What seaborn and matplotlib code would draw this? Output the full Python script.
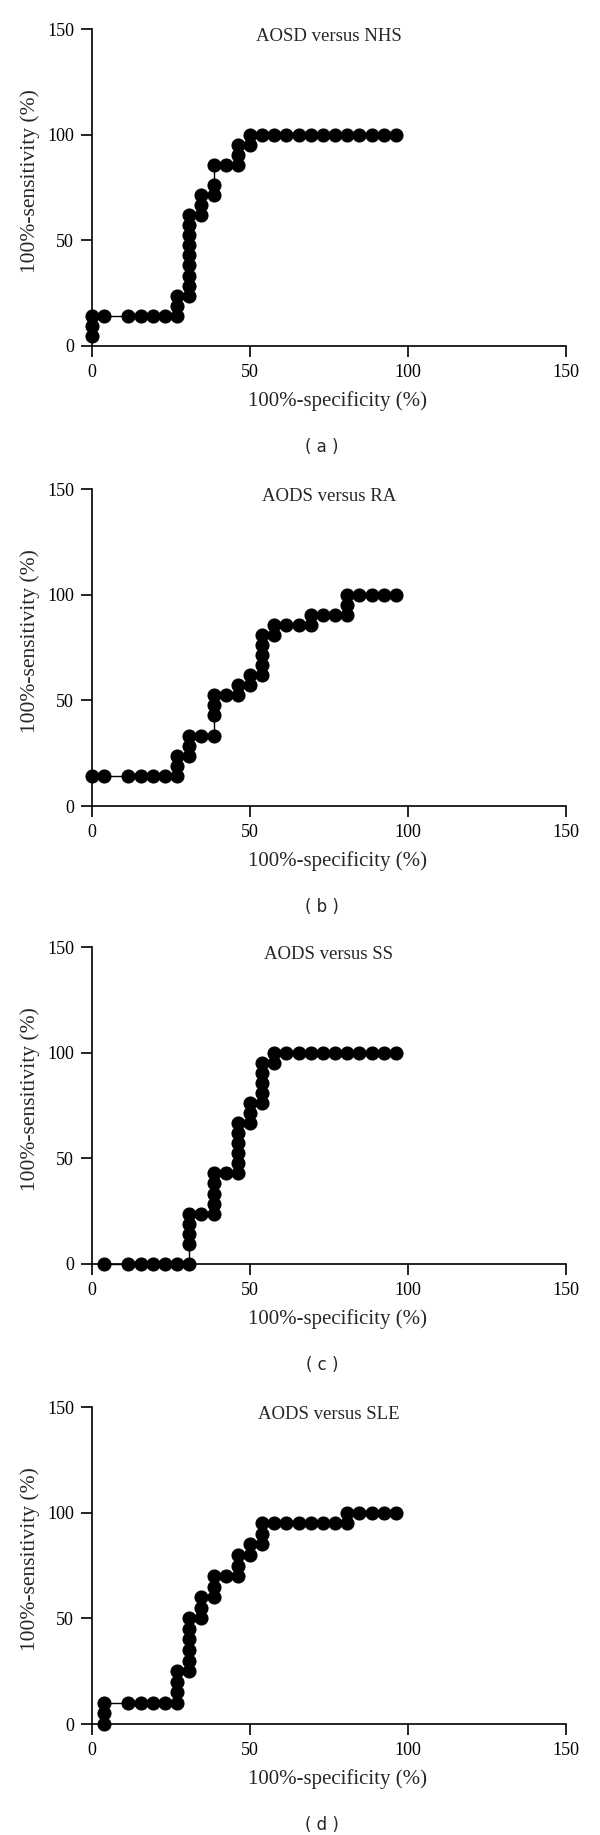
import matplotlib
matplotlib.use("Agg")
import matplotlib.pyplot as plt
import seaborn as sns
import pandas as pd

# ROC points (100%-specificity, 100%-sensitivity)
nhs_x = [0, 0, 0, 3.85, 11.54, 15.38, 19.23, 23.08, 26.92, 26.92, 26.92,
         30.77, 30.77, 30.77, 30.77, 30.77, 30.77, 30.77, 30.77, 30.77,
         34.62, 34.62, 34.62, 38.46, 38.46, 38.46, 42.31, 46.15, 46.15, 46.15,
         50, 50, 53.85, 57.69, 61.54, 65.38, 69.23, 73.08, 76.92, 80.77,
         84.62, 88.46, 92.31, 96.15]
nhs_y = [4.76, 9.52, 14.29, 14.29, 14.29, 14.29, 14.29, 14.29, 14.29, 19.05, 23.81,
         23.81, 28.57, 33.33, 38.10, 42.86, 47.62, 52.38, 57.14, 61.90,
         61.90, 66.67, 71.43, 71.43, 76.19, 85.71, 85.71, 85.71, 90.48, 95.24,
         95.24, 100, 100, 100, 100, 100, 100, 100, 100, 100,
         100, 100, 100, 100]

ra_x = [0, 3.85, 11.54, 15.38, 19.23, 23.08, 26.92, 26.92, 26.92,
        30.77, 30.77, 30.77, 34.62, 38.46, 38.46, 38.46, 38.46, 42.31,
        46.15, 46.15, 50, 50, 53.85, 53.85, 53.85, 53.85, 53.85, 57.69, 57.69,
        61.54, 65.38, 69.23, 69.23, 73.08, 76.92, 80.77, 80.77, 80.77,
        84.62, 88.46, 92.31, 96.15]
ra_y = [14.29, 14.29, 14.29, 14.29, 14.29, 14.29, 14.29, 19.05, 23.81,
        23.81, 28.57, 33.33, 33.33, 33.33, 42.86, 47.62, 52.38, 52.38,
        52.38, 57.14, 57.14, 61.90, 61.90, 66.67, 71.43, 76.19, 80.95, 80.95, 85.71,
        85.71, 85.71, 85.71, 90.48, 90.48, 90.48, 90.48, 95.24, 100,
        100, 100, 100, 100]

ss_x = [3.85, 11.54, 15.38, 19.23, 23.08, 26.92,
        30.77, 30.77, 30.77, 30.77, 30.77, 34.62,
        38.46, 38.46, 38.46, 38.46, 38.46, 42.31,
        46.15, 46.15, 46.15, 46.15, 46.15, 46.15, 50, 50, 50,
        53.85, 53.85, 53.85, 53.85, 53.85, 57.69, 57.69,
        61.54, 65.38, 69.23, 73.08, 76.92, 80.77, 84.62, 88.46, 92.31, 96.15]
ss_y = [0, 0, 0, 0, 0, 0,
        0, 9.52, 14.29, 19.05, 23.81, 23.81,
        23.81, 28.57, 33.33, 38.10, 42.86, 42.86,
        42.86, 47.62, 52.38, 57.14, 61.90, 66.67, 66.67, 71.43, 76.19,
        76.19, 80.95, 85.71, 90.48, 95.24, 95.24, 100,
        100, 100, 100, 100, 100, 100, 100, 100, 100, 100]

sle_x = [3.85, 3.85, 3.85, 11.54, 15.38, 19.23, 23.08,
         26.92, 26.92, 26.92, 26.92, 30.77, 30.77, 30.77, 30.77, 30.77, 30.77,
         34.62, 34.62, 34.62, 38.46, 38.46, 38.46, 42.31, 46.15, 46.15, 46.15,
         50, 50, 53.85, 53.85, 53.85, 57.69, 61.54, 65.38, 69.23, 73.08, 76.92,
         80.77, 80.77, 84.62, 88.46, 92.31, 96.15]
sle_y = [0, 5, 10, 10, 10, 10, 10,
         10, 15, 20, 25, 25, 30, 35, 40, 45, 50,
         50, 55, 60, 60, 65, 70, 70, 70, 75, 80,
         80, 85, 85, 90, 95, 95, 95, 95, 95, 95, 95,
         95, 100, 100, 100, 100, 100]

titles = ["AOSD versus NHS", "AODS versus RA", "AODS versus SS", "AODS versus SLE"]
letters = ["( a )", "( b )", "( c )", "( d )"]
xs = [nhs_x, ra_x, ss_x, sle_x]
ys = [nhs_y, ra_y, ss_y, sle_y]

sns.set_style("ticks")
plt.rcParams["font.family"] = ["Liberation Serif", "DejaVu Serif"]

W, H = 600, 1835
fig = plt.figure(figsize=(W / 100, H / 100), dpi=100)

tops = [29, 489, 947, 1407]
left, right, ax_h = 92, 566, 317

for i in range(4):
    top = tops[i]
    bottom = top + ax_h
    ax = fig.add_axes([left / W, 1 - bottom / H, (right - left) / W, ax_h / H])
    df = pd.DataFrame({"x": xs[i], "y": ys[i]})
    sns.lineplot(data=df, x="x", y="y", ax=ax, estimator=None, sort=False,
                 color="black", linewidth=1.0, marker="o", markersize=9.4,
                 markeredgecolor="black", markerfacecolor="black", clip_on=False)
    ax.set_xlim(0, 150)
    ax.set_ylim(0, 150)
    ax.set_xticks([0, 50, 100, 150])
    ax.set_yticks([0, 50, 100, 150])
    sns.despine(ax=ax)
    for s in ["left", "bottom"]:
        ax.spines[s].set_linewidth(1.2)
        ax.spines[s].set_color("black")
    ax.tick_params(direction="out", length=8, width=1.2, pad=5,
                   labelsize=13, colors="black")
    ax.set_xlabel("100%-specificity (%)", fontsize=15, labelpad=7)
    ax.xaxis.label.set_x(0.518)
    ax.set_ylabel("100%-sensitivity (%)", fontsize=15.5, labelpad=5)
    ax.yaxis.label.set_y(0.52)
    ax.text(0.5, 0.975, titles[i], transform=ax.transAxes, ha="center",
            va="center", fontsize=13.5)
    fig.text(322 / W, 1 - (bottom + 101) / H, letters[i], ha="center",
             va="center", family="DejaVu Sans", fontsize=12)

fig.savefig("out.png", dpi=100)
